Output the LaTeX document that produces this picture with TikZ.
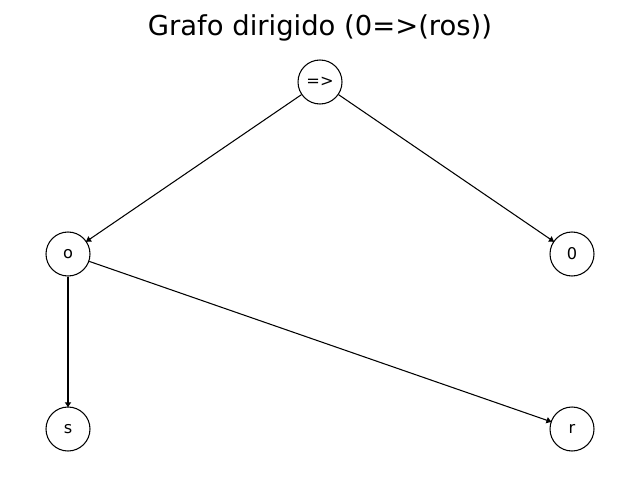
\documentclass[tikz,border=0pt]{standalone}
\usepackage{fontspec}
\setmainfont{DejaVu Sans}
\usetikzlibrary{arrows.meta}
\begin{document}
\begin{tikzpicture}[vertex/.style={circle, draw, line width=0.75pt, minimum size=1.1cm, inner sep=0pt, font=\fontsize{11.5}{13}\selectfont},
    link/.style={line width=0.75pt, -{Latex[length=4pt, width=5pt]}, shorten >=-1pt}]
      \useasboundingbox (0, 0) rectangle (16, 12);
      \node at (8, 11.3) (title) {\fontsize{19.5}{23}\selectfont Grafo dirigido (0=>(ros))};
      \node [vertex] (impl) at (8, 9.95) {=>};
      \node [vertex] (o) at (1.7, 5.65) {o};
      \node [vertex] (zero) at (14.3, 5.65) {0};
      \node [vertex] (s) at (1.7, 1.275) {s};
      \node [vertex] (r) at (14.3, 1.275) {r};
      \draw [link] (impl) edge (o)
                   (impl) edge (zero)
                   (o) edge (s)
                   (o) edge (r);
\end{tikzpicture}
\end{document}
